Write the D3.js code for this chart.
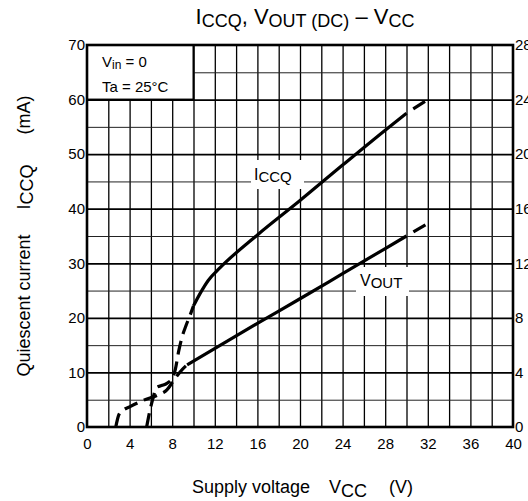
<!DOCTYPE html>
<html>
<head>
<meta charset="utf-8">
<script src="https://cdn.jsdelivr.net/npm/d3@7/dist/d3.min.js"></script>
<style>
  html, body { margin: 0; padding: 0; background: #fff; }
  svg { display: block; }
  text { font-family: "Liberation Sans", Arial, Helvetica, sans-serif; fill: #000; }
</style>
</head>
<body>
<div id="chart"></div>
<script>
// ---- data ----
const xTicks = [0, 4, 8, 12, 16, 20, 24, 28, 32, 36, 40];
const yLeftTicks = [0, 10, 20, 30, 40, 50, 60, 70];
const yRightTicks = [0, 4, 8, 12, 16, 20, 24, 28];

// ICCQ (mA) vs VCC (V)
const iccqVcc = [5.6, 5.85, 6.2, 6.5, 7.0, 7.5, 8.0, 8.3, 8.6, 8.9, 9.3, 9.7, 10.0, 10.6, 11.4, 12.5, 16, 20, 24, 28, 30, 32];
const iccqmA  = [0, 2.5, 5.3, 7.2, 7.6, 8.0, 8.9, 10.6, 13.8, 16.3, 18.6, 20.6, 22.2, 24.4, 26.9, 29.2, 35.2, 41.5, 48.0, 54.4, 57.5, 60];
const iccqSolid = [10.0, 30];

// VOUT(DC) (V) vs VCC (V)
const voutVcc = [2.7, 3.0, 3.4, 4.0, 5.3, 6.7, 7.5, 8.1, 8.7, 9.4, 16, 20, 24, 28, 30, 32];
const voutV   = [0, 0.92, 1.24, 1.48, 1.96, 2.36, 2.72, 3.36, 4.0, 4.56, 7.6, 9.4, 11.24, 13.08, 14.0, 14.92];
const voutSolid = [9.4, 30];

// ---- layout ----
const W = 528, H = 501;
const L = 87, R = 513, T = 45, B = 427;

const svg = d3.select("#chart").append("svg").attr("width", W).attr("height", H);

const x = d3.scaleLinear().domain([0, 40]).range([L, R]);
const yL = d3.scaleLinear().domain([0, 70]).range([B, T]);
const yR = d3.scaleLinear().domain([0, 28]).range([B, T]);

// grid: vertical every 2 V
const gv = svg.append("g").attr("transform", `translate(0,${B})`)
  .call(d3.axisBottom(x).tickValues(d3.range(2, 40, 2)).tickSize(-(B - T)).tickFormat(""));
gv.select(".domain").remove();
gv.selectAll(".tick line").attr("stroke", "#000").attr("stroke-width", 1.3);

// grid: horizontal every 5 mA
const gh = svg.append("g").attr("transform", `translate(${L},0)`)
  .call(d3.axisLeft(yL).tickValues(d3.range(5, 70, 5)).tickSize(-(R - L)).tickFormat(""));
gh.select(".domain").remove();
gh.selectAll(".tick line")
  .attr("stroke", d => d % 10 === 0 ? "#000" : "#222")
  .attr("stroke-width", d => d % 10 === 0 ? 1.7 : 1.0);

// legend box (white, covers grid)
svg.append("rect")
  .attr("x", x(0)).attr("y", yL(70))
  .attr("width", x(10) - x(0)).attr("height", yL(60) - yL(70))
  .attr("fill", "#fff").attr("stroke", "#000").attr("stroke-width", 2);

const box1 = svg.append("text").attr("x", 102).attr("y", 67).attr("font-size", 15);
box1.append("tspan").text("V");
box1.append("tspan").attr("font-size", 12).attr("dy", 2).text("in");
box1.append("tspan").attr("dy", -2).text(" = 0");
svg.append("text").attr("x", 102).attr("y", 92).attr("font-size", 15).text("Ta = 25°C");

// curve label backgrounds
svg.append("rect").attr("x", 251).attr("y", 160).attr("width", 53).attr("height", 29).attr("fill", "#fff");
svg.append("rect").attr("x", 356).attr("y", 267).attr("width", 53).attr("height", 29).attr("fill", "#fff");

// curves
function drawCurve(vx, vy, yScale, solid) {
  const pts = vx.map((v, i) => [v, vy[i]]);
  const line = d3.line().x(d => x(d[0])).y(d => yScale(d[1])).curve(d3.curveMonotoneX);
  const lo = pts.filter(d => d[0] <= solid[0]);
  const mid = pts.filter(d => d[0] >= solid[0] && d[0] <= solid[1]);
  const hi = pts.filter(d => d[0] >= solid[1]);
  const g = svg.append("g").attr("fill", "none").attr("stroke", "#000").attr("stroke-width", 3.2);
  g.append("path").attr("d", line(lo)).attr("stroke-dasharray", "14,7");
  g.append("path").attr("d", line(mid));
  g.append("path").attr("d", line(hi)).attr("stroke-dasharray", "0,8,14,100");
}
drawCurve(iccqVcc, iccqmA, yL, iccqSolid);
drawCurve(voutVcc, voutV, yR, voutSolid);

// curve labels
const lab1 = svg.append("text").attr("x", 254).attr("y", 180).attr("font-size", 16);
lab1.append("tspan").text("I");
lab1.append("tspan").attr("font-size", 15).attr("dy", 2).text("CCQ");
const lab2 = svg.append("text").attr("x", 360).attr("y", 286).attr("font-size", 16);
lab2.append("tspan").text("V");
lab2.append("tspan").attr("font-size", 15).attr("dy", 2).text("OUT");

// frame
svg.append("rect").attr("x", L).attr("y", T).attr("width", R - L).attr("height", B - T)
  .attr("fill", "none").attr("stroke", "#000").attr("stroke-width", 2.6);

// axes labels (tick text)
const ax = svg.append("g").attr("transform", `translate(0,${B})`)
  .call(d3.axisBottom(x).tickValues(xTicks).tickSize(0).tickPadding(11));
ax.select(".domain").remove();
ax.selectAll("text").attr("font-size", 15).attr("font-family", null);

const ayl = svg.append("g").attr("transform", `translate(${L},0)`)
  .call(d3.axisLeft(yL).tickValues(yLeftTicks).tickSize(0).tickPadding(2));
ayl.select(".domain").remove();
ayl.selectAll("text").attr("font-size", 15).attr("font-family", null);

const ayr = svg.append("g").attr("transform", `translate(${R},0)`)
  .call(d3.axisRight(yR).tickValues(yRightTicks).tickSize(0).tickPadding(2));
ayr.select(".domain").remove();
ayr.selectAll("text").attr("font-size", 15).attr("font-family", null);

// title
const title = svg.append("text").attr("x", 305).attr("y", 24).attr("text-anchor", "middle").attr("font-size", 22);
title.append("tspan").text("I");
title.append("tspan").attr("font-size", 18).attr("dy", 3).text("CCQ");
title.append("tspan").attr("dy", -3).text(", V");
title.append("tspan").attr("font-size", 18).attr("dy", 3).text("OUT (DC)");
title.append("tspan").attr("dy", -3).text(" – V");
title.append("tspan").attr("font-size", 18).attr("dy", 3).text("CC");

// x axis label
const xl = svg.append("text").attr("x", 192).attr("y", 493).attr("font-size", 18);
xl.append("tspan").text("Supply voltage");
xl.append("tspan").attr("dx", 19).text("V");
xl.append("tspan").attr("dy", 4).text("CC");
xl.append("tspan").attr("dy", -4).attr("dx", 22).text("(V)");

// y axis label
const yl = svg.append("text").attr("transform", `translate(30,${(T + B) / 2}) rotate(-90)`)
  .attr("text-anchor", "middle").attr("font-size", 18);
yl.append("tspan").text("Quiescent current");
yl.append("tspan").attr("dx", 25).text("I");
yl.append("tspan").attr("dy", 3).text("CCQ");
yl.append("tspan").attr("dy", -3).attr("dx", 30).text("(mA)");
</script>
</body>
</html>
